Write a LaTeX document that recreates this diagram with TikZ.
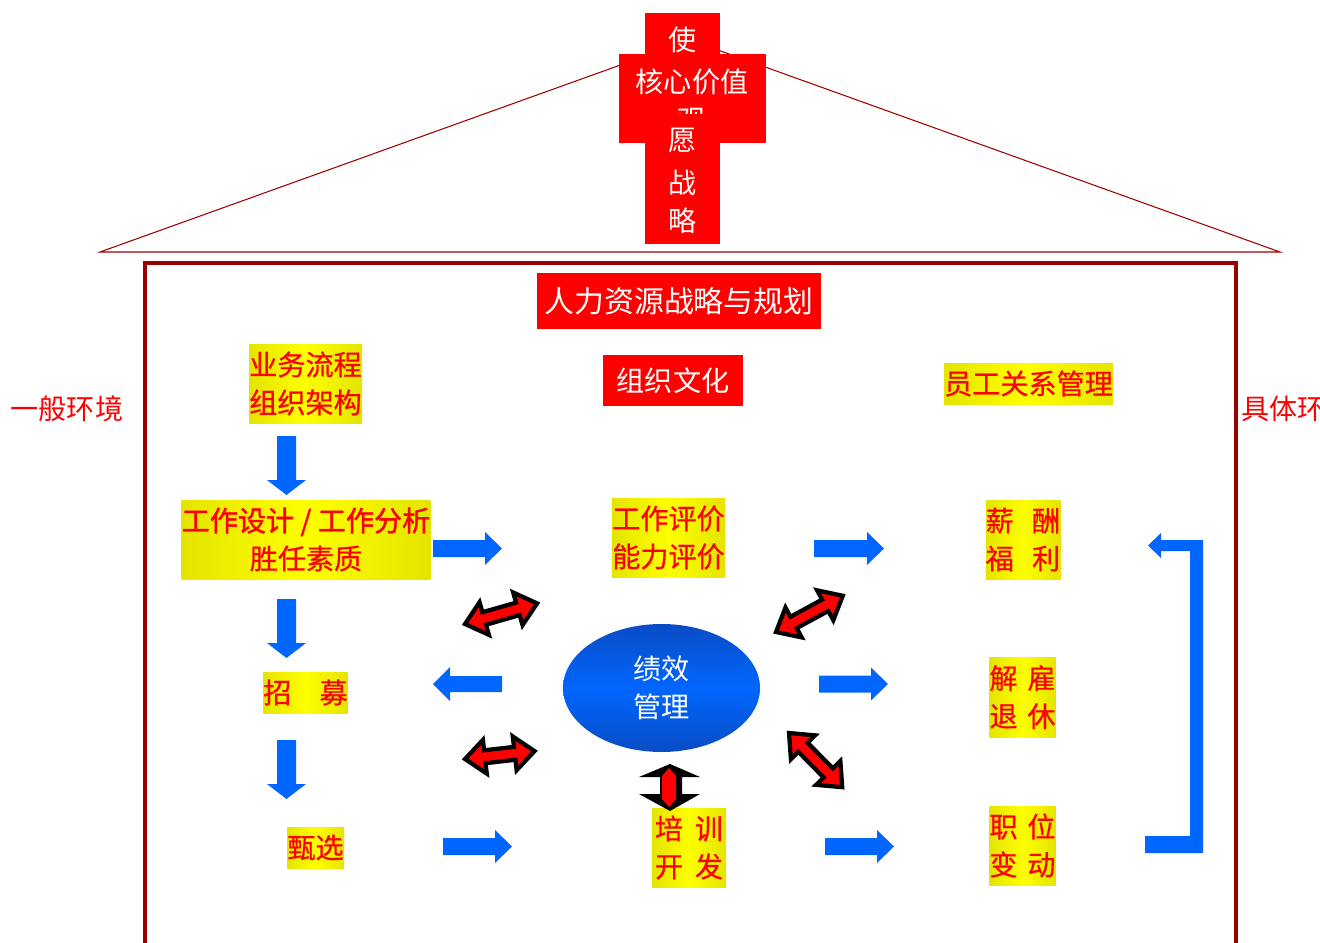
\documentclass[tikz,border=0pt]{standalone}
\usepackage{fontspec}
\setmainfont{Noto Sans CJK SC}
\newfontfamily\semibf[FakeBold=0.6]{Noto Sans CJK SC}
\newfontfamily\heavybf[FakeBold=1.4]{Noto Sans CJK SC}
\usetikzlibrary{shapes.geometric}
\definecolor{pred}{HTML}{FF0000}
\definecolor{hred}{HTML}{990000}
\definecolor{rline}{HTML}{A00000}
\definecolor{pblue}{HTML}{0066FF}
\definecolor{eblue}{HTML}{0A4CC4}
\definecolor{yc}{HTML}{FFFF00}
\definecolor{ye}{HTML}{E4E400}
\newcommand{\ftext}{\fontsize{16}{21.6}\selectfont}
\tikzset{
  sz/.style 2 args={minimum width=#1*0.02cm, minimum height=#2*0.02cm},
  ybox/.style={rectangle, inner sep=0pt, left color=ye, right color=ye, middle color=yc, text=pred, align=center, font=\semibf\ftext},
  rbox/.style={rectangle, inner sep=0pt, fill=pred, text=white, align=center, font=\ftext},
  wtxt/.style={text=white, inner sep=0pt, font=\ftext},
  rtxt/.style={text=pred, inner sep=0pt, font=\ftext},
  barrow/.style={fill=pblue},
  redarr/.style={fill=pred, draw=black, line width=2.4pt, line join=miter},
}
% right-pointing block arrow: shaft start x, centre y, tip x
\newcommand{\rarr}[3]{\fill[barrow] (#1,#2-8.5) -- (#3-17,#2-8.5) -- (#3-17,#2-16.5) -- (#3,#2) -- (#3-17,#2+16.5) -- (#3-17,#2+8.5) -- (#1,#2+8.5) -- cycle;}
% down-pointing block arrow: shaft start y, tip y
\newcommand{\darr}[2]{\fill[barrow] (277,#1) -- (296,#1) -- (296,#2-15) -- (306,#2-15) -- (286.5,#2) -- (267,#2-15) -- (277,#2-15) -- cycle;}
% red double arrow: x, y of one tip, angle, length
\newcommand{\dblarr}[4]{\begin{scope}[shift={(#1,#2)},rotate=#3]
  \filldraw[redarr] (0,0) -- (20,-17) -- (20,-6.5) -- (#4-20,-6.5) -- (#4-20,-17) -- (#4,0) -- (#4-20,17) -- (#4-20,6.5) -- (20,6.5) -- (20,17) -- cycle;
\end{scope}}
\begin{document}
\begin{tikzpicture}[x=0.02cm,y=-0.02cm]
\useasboundingbox (0,0) rectangle (1320,943);
\fill[white] (0,0) rectangle (1320,943);

% roof
\coordinate (rl) at (100,252);
\coordinate (rr) at (1280,252);
\coordinate (rt) at (690,40);
\draw[rline, line width=0.6pt] (rl) -- (rt) -- (rr) -- cycle;

% house
\coordinate (hbl) at (145,950);
\coordinate (htl) at (145,263);
\coordinate (htr) at (1236,263);
\coordinate (hbr) at (1236,950);
\draw[hred, line width=2.4pt, line join=miter] (hbl) -- (htl) -- (htr) -- (hbr);

% cross
\node[rectangle, fill=pred, inner sep=0pt, sz={75}{231}] (cv) at (682.5,128.5) {};
\node[rectangle, fill=pred, inner sep=0pt, sz={147}{89}] (ch) at (692.5,98.5) {};
\node[wtxt] (t1) at (683,40) {使};
\node[wtxt] (t2) at (692,82) {核心价值};
\begin{scope}
  \clip (600,60) rectangle (780,113);
  \node[wtxt] (t3) at (692,120) {观};
\end{scope}
\node[wtxt] (t4) at (683,140) {愿};
\node[wtxt] (t5) at (683,183) {战};
\node[wtxt] (t6) at (683,221) {略};

% side labels
\node[rtxt] (gen) at (67,409) {一般环境};
\node[rtxt, anchor=west] (spec) at (1241,409) {具体环境};

% red boxes
\node[rbox, sz={284}{56}, font=\fontsize{17}{21}\selectfont] (hr) at (679,301) {人力资源战略与规划};
\node[rbox, sz={140}{51}] (cult) at (673,380.5) {组织文化};

% yellow boxes
\node[ybox, sz={113}{79}] (biz) at (305.5,383.5) {业务流程\\组织架构};
\node[ybox, sz={169}{41}] (emp) at (1028.5,383.5) {员工关系管理};
\node[ybox, sz={248}{79}] (job) at (306,539.5) {{\heavybf 工作设计 / 工作分析}\\胜任素质};
\node[ybox, sz={113}{79}] (eval) at (668.5,537.5) {工作评价\\能力评价};
\node[ybox, sz={74}{79}] (sal) at (1023,539.5) {薪\hspace{0.65em}酬\\福\hspace{0.65em}利};
\node[ybox, sz={83}{41}] (rec) at (305.5,692.5) {招\hspace{1em}募};
\node[ybox, sz={65}{80}] (fire) at (1022.5,697) {解\hspace{0.35em}雇\\退\hspace{0.35em}休};
\node[ybox, sz={57}{41}] (sel) at (315.5,847.5) {甄选};
\node[ybox, sz={74}{79}] (train) at (689,847.5) {培\hspace{0.42em}训\\开\hspace{0.42em}发};
\node[ybox, sz={65}{79}] (pos) at (1022.5,845.5) {职\hspace{0.35em}位\\变\hspace{0.35em}动};

% performance ellipse
\node[ellipse, inner sep=0pt, sz={197}{128}, top color=eblue, bottom color=eblue, middle color=pblue, text=white, align=center, font=\ftext] (perf) at (661.5,688) {绩效\\管理};

% blue block arrows
\darr{436}{495}
\darr{599}{658}
\darr{740}{799}
\rarr{433}{548.5}{502}
\rarr{814}{548.5}{884}
\rarr{819}{684}{888}
\rarr{825}{846.5}{894}
\rarr{443}{846.5}{512}
\fill[barrow] (502,676) -- (450,676) -- (450,667) -- (433,684) -- (450,701) -- (450,692) -- (502,692) -- cycle;

% right bracket arrow
\fill[barrow] (1203,540) -- (1203,853) -- (1145,853) -- (1145,836) -- (1190,836) -- (1190,551) -- (1161,551) -- (1161,558) -- (1148,545.5) -- (1161,533) -- (1161,540) -- cycle;

% red double arrows
\dblarr{465}{624}{16}{75}
\dblarr{465}{759}{6.5}{70}
\dblarr{776}{632}{28.5}{76}
\dblarr{789}{733}{-45.5}{76}
\fill[black] (670,764) -- (700,777) -- (682,777) -- (682,794) -- (700,794) -- (670,811) -- (639,794) -- (660,794) -- (660,777) -- (639,777) -- cycle;
\fill[pred] (669,768) -- (676,776) -- (676,799) -- (669,807) -- (662,799) -- (662,776) -- cycle;
\end{tikzpicture}
\end{document}
